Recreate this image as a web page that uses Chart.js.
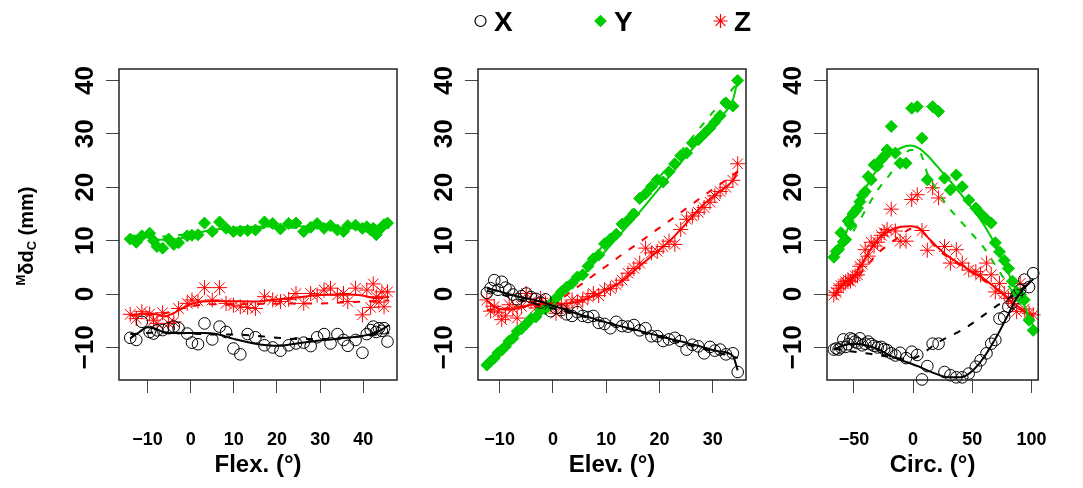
<!DOCTYPE html>
<html>
<head>
<meta charset="utf-8">
<script src="https://cdn.jsdelivr.net/npm/chart.js@4.4.1/dist/chart.umd.min.js"></script>
<style>
  html, body { margin: 0; padding: 0; background: #ffffff; }
  #contenedor { position: relative; width: 1083px; height: 488px; }
  canvas { position: absolute; top: 0; }
</style>
</head>
<body>
<div id="contenedor">
  <canvas id="chartFlex" width="420" height="488" style="left:0px"></canvas>
  <canvas id="chartElev" width="360" height="488" style="left:420px"></canvas>
  <canvas id="chartCirc" width="303" height="488" style="left:780px"></canvas>
</div>
<script>
// ---- Flexión: ángulo y desplazamientos X, Y, Z ----
const flexAngle = [-14.0, -12.6, -11.3, -9.5, -8.6, -7.8, -6.5, -5.1, -3.9, -2.8, -0.8, 0.3, 1.7, 3.2, 5.0, 6.7, 8.2, 9.9, 11.5, 13.2, 15.0, 17.1, 19.0, 20.8, 22.7, 24.4, 26.2, 27.8, 29.3, 30.9, 32.4, 34.0, 35.4, 36.4, 38.2, 39.8, 40.8, 41.7, 42.3, 43.0, 43.6, 44.3, 44.8, 45.6];
const flexX = [-8.2, -8.6, -5.2, -7.1, -7.4, -6.8, -6.75, -6.4, -6.1, -6.4, -7.4, -9.1, -9.4, -5.5, -8.5, -6.1, -7.1, -10.2, -11.3, -7.5, -8.1, -9.6, -10.0, -10.6, -9.6, -9.25, -9.1, -9.75, -8.1, -7.5, -9.25, -7.5, -8.6, -9.7, -8.6, -11.0, -7.5, -6.75, -6.1, -7.1, -6.4, -6.9, -6.4, -8.9];
const flexY = [10.3, 9.7, 10.9, 11.4, 10.0, 8.9, 8.6, 10.3, 9.3, 9.6, 10.9, 11.0, 11.1, 13.3, 11.7, 13.5, 12.3, 11.7, 11.8, 11.9, 12.0, 13.5, 13.2, 12.2, 13.2, 13.3, 11.7, 12.5, 13.2, 12.3, 12.8, 12.0, 11.7, 12.8, 12.9, 12.3, 12.6, 12.0, 12.3, 11.1, 12.0, 12.5, 13.0, 13.3];
const flexZ = [-3.8, -4.6, -3.3, -3.75, -4.9, -5.5, -3.5, -5.5, -5.2, -2.7, -1.75, -1.1, -1.3, 1.2, -1.1, 1.2, -1.75, -2.1, -2.4, -2.5, -2.7, -0.5, -1.1, -1.4, -1.0, 0.1, -1.75, 0.1, -0.2, 0.75, 1.1, -0.2, 0.1, -1.4, 1.1, -3.9, 0.75, -2.5, 1.9, -0.5, -1.5, 0.4, -2.4, 0.4];
// curvas de ajuste (continua) y tendencia (discontinua)
const flexGrid = [-14, -12, -10, -8, -6, -4, -2, 0, 3, 6, 10, 15, 20, 25, 30, 35, 40, 43, 46];
const flexFitX = [-8.3, -7.2, -6.2, -6.6, -7.2, -7.3, -7.3, -7.3, -7.3, -7.5, -8.4, -9.3, -9.7, -9.2, -8.7, -8.3, -7.8, -7.2, -5.8];
const flexDashX = [-7.5, -7.4, -7.3, -7.2, -7.2, -7.2, -7.3, -7.4, -7.5, -7.6, -7.6, -7.8, -8.2, -8.4, -8.4, -8.2, -7.9, -7.6, -7.3];
const flexFitY = [10.6, 10.7, 10.6, 10.3, 10.1, 10.2, 10.5, 11.0, 11.7, 12.1, 12.4, 12.6, 12.7, 12.7, 12.5, 12.4, 12.3, 12.6, 13.2];
const flexDashY = [10.9, 10.9, 10.8, 10.8, 10.8, 10.9, 11.1, 11.4, 11.8, 12.1, 12.2, 12.3, 12.4, 12.4, 12.3, 12.3, 12.2, 12.3, 12.4];
const flexFitZ = [-3.9, -3.8, -3.6, -3.8, -4.2, -3.6, -2.7, -1.9, -1.4, -1.3, -1.35, -1.4, -1.0, -0.6, -0.2, -0.1, -0.3, -0.8, -0.5];
const flexDashZ = [-4.0, -4.0, -3.9, -3.8, -3.6, -3.2, -2.7, -2.3, -2.0, -1.9, -1.9, -1.85, -1.8, -1.75, -1.75, -1.6, -1.4, -1.3, -1.2];

// ---- Elevación ----
const elevAngle = [-12.4, -11.7, -11.0, -10.3, -9.6, -8.9, -8.2, -7.5, -6.7, -5.9, -5.0, -4.1, -3.2, -2.3, -1.4, -0.4, 0.6, 1.6, 2.6, 3.6, 4.6, 5.6, 6.6, 7.6, 8.6, 9.7, 10.8, 11.9, 13.0, 14.1, 15.2, 16.3, 17.4, 18.5, 19.6, 20.7, 21.8, 22.9, 24.0, 25.1, 26.2, 27.3, 28.4, 29.5, 30.4, 31.4, 32.5, 33.8, 34.7];
const elevX = [0.2, 1.1, 2.6, 0.8, 2.3, 1.2, 0.8, -0.1, -1.0, -0.4, 0.1, -0.6, -0.9, -1.6, -1.0, -3.2, -2.6, -3.0, -3.8, -4.1, -3.4, -4.1, -4.3, -4.1, -5.4, -5.6, -6.4, -5.2, -6.0, -6.1, -5.8, -6.8, -6.4, -7.9, -7.9, -8.8, -8.5, -8.2, -8.8, -10.4, -9.5, -9.8, -11.1, -9.9, -10.6, -10.4, -11.3, -11.1, -14.6];
const elevY = [-13.3, -12.6, -12.0, -11.0, -10.5, -9.8, -8.8, -8.3, -7.0, -6.5, -5.6, -4.6, -4.3, -3.0, -2.8, -1.9, -0.8, 0.4, 1.3, 2.0, 3.2, 3.6, 5.2, 6.6, 7.3, 9.4, 10.3, 11.2, 13.1, 13.8, 15.0, 17.9, 18.8, 20.1, 21.4, 21.0, 22.9, 24.4, 25.9, 26.4, 28.3, 28.9, 30.0, 31.1, 32.2, 33.4, 35.8, 35.2, 40.0];
const elevZ = [-1.1, -3.2, -2.3, -3.4, -4.8, -4.1, -2.0, -2.8, -4.5, -2.3, 0.1, -1.4, -2.6, -0.8, -1.7, -2.0, -3.6, -2.2, -2.6, -1.1, -1.5, -1.1, -0.5, 0.1, -0.3, 0.8, 1.0, 1.7, 2.6, 3.9, 4.8, 5.8, 8.6, 7.7, 8.0, 8.9, 9.9, 9.3, 12.1, 14.0, 14.6, 15.3, 16.2, 17.2, 18.4, 19.2, 20.0, 21.3, 24.4];
const elevGrid = [-12.4, -10, -8, -6, -4, -2, 0, 2, 4, 6, 8, 10, 13, 16, 19, 22, 25, 28, 31, 33.8, 34.7];
const elevFitX = [1.1, 0.5, -0.1, -0.6, -1.0, -1.5, -2.2, -2.8, -3.5, -4.1, -4.7, -5.3, -6.1, -6.8, -7.6, -8.4, -9.1, -9.9, -10.7, -11.6, -14.3];
const elevDashX = [0.6, 0.0, -0.6, -1.1, -1.6, -2.2, -2.7, -3.2, -3.8, -4.3, -4.8, -5.4, -6.2, -7.0, -7.8, -8.6, -9.4, -10.2, -11.0, -11.7, -12.0];
const elevFitY = [-13.2, -10.9, -9.0, -7.1, -5.3, -3.6, -2.0, -0.1, 1.9, 4.0, 6.1, 8.2, 11.6, 15.0, 18.6, 22.2, 25.8, 29.3, 32.7, 36.4, 40.0];
const elevDashY = [-13.5, -11.2, -9.3, -7.4, -5.5, -3.8, -2.0, 0.3, 2.6, 5.0, 7.4, 9.8, 13.5, 17.1, 20.7, 24.3, 27.9, 31.6, 35.2, 38.5, 39.6];
const elevFitZ = [-1.3, -2.8, -2.9, -2.4, -2.0, -1.8, -1.75, -1.8, -1.6, -1.0, -0.2, 0.8, 2.4, 5.0, 7.5, 10.0, 13.2, 16.5, 19.0, 21.3, 23.0];
const elevDashZ = [-3.0, -2.8, -2.6, -2.5, -2.3, -2.2, -2.0, -0.6, 0.9, 2.3, 3.8, 5.2, 7.4, 9.5, 11.7, 13.8, 16.0, 18.2, 20.3, 22.3, 23.0];

// ---- Circunducción ----
const circAngle = [-67, -65, -63, -61, -59, -57, -55, -53, -51, -49, -47, -45, -43, -40.5, -38, -35.5, -33, -30, -27, -24.5, -22, -18.5, -15, -11, -6, -1.2, 3.5, 7.5, 12, 16.5, 21.5, 26.5, 31.5, 36.5, 41.5, 47, 53, 57, 62, 66, 69.5, 73, 77, 80.5, 84, 87.5, 90.5, 94, 98, 101.5];
const circX = [-10.4, -10.2, -10.4, -10.0, -8.5, -9.9, -9.4, -8.3, -8.5, -8.9, -9.2, -8.3, -9.6, -9.3, -8.9, -9.4, -9.7, -10.0, -9.9, -10.3, -10.5, -11.1, -11.5, -11.0, -12.0, -10.8, -11.4, -16.0, -13.5, -9.3, -9.3, -14.6, -15.2, -15.6, -15.6, -14.9, -13.6, -12.4, -11.1, -9.3, -8.6, -4.6, -4.3, -2.4, -1.6, -0.2, 0.8, 2.7, 1.3, 3.9];
const circY = [6.9, 8.0, 8.4, 11.5, 9.8, 10.2, 13.7, 13.0, 15.0, 15.5, 16.1, 17.3, 18.5, 19.2, 22.0, 21.4, 24.2, 24.0, 25.2, 25.8, 27.0, 31.4, 26.4, 24.5, 24.5, 34.8, 35.1, 29.2, 21.4, 35.1, 34.2, 21.7, 19.5, 22.3, 20.1, 17.6, 16.1, 15.1, 14.0, 13.3, 9.6, 7.9, 6.3, 4.8, 2.4, 0.4, -0.1, -1.1, -4.9, -6.8];
const circZ = [-0.2, 0.3, 1.1, 1.6, 1.9, 2.3, 2.6, 2.4, 3.0, 3.4, 3.6, 5.2, 5.6, 8.3, 7.1, 9.7, 9.0, 9.7, 11.0, 11.5, 12.1, 15.9, 11.8, 9.9, 9.9, 17.7, 18.6, 11.9, 8.2, 19.9, 18.0, 8.9, 5.8, 8.3, 5.8, 4.5, 4.2, 3.6, 5.8, 3.6, 0.4, 2.0, 0.1, -0.8, -1.75, -3.3, 2.0, -2.8, -3.6, -3.9];
const circGrid = [-67, -60, -50, -40, -30, -20, -10, -2, 5, 12, 20, 30, 40, 50, 60, 70, 80, 87, 94, 101.5];
const circFitX = [-10.4, -9.7, -9.3, -9.6, -10.3, -11.5, -12.4, -13.0, -13.6, -14.3, -15.0, -15.6, -15.6, -14.4, -11.8, -8.2, -4.0, -0.9, 1.1, 2.8];
const circDashX = [-10.2, -10.5, -10.8, -11.1, -11.4, -11.8, -12.1, -12.2, -11.6, -10.5, -9.2, -8.0, -6.9, -5.5, -3.9, -2.3, -0.9, 0.2, 1.3, 2.8];
const circFitY = [6.8, 9.8, 15.0, 19.9, 23.5, 26.0, 27.4, 27.8, 27.3, 26.0, 24.0, 21.5, 18.8, 16.0, 12.9, 9.0, 4.2, 0.7, -2.2, -6.0];
const circDashY = [7.0, 8.7, 12.0, 15.8, 19.5, 22.3, 25.5, 27.0, 26.8, 22.6, 19.5, 16.2, 13.7, 11.2, 8.6, 5.2, 1.8, -0.6, -3.0, -6.0];
const circFitZ = [-0.3, 1.6, 3.4, 6.9, 10.2, 11.9, 12.6, 12.7, 12.3, 10.7, 8.9, 7.0, 5.6, 4.1, 2.8, 1.1, -0.8, -2.0, -3.2, -4.1];
const circDashZ = [-0.3, 0.9, 2.5, 5.0, 7.6, 9.4, 11.0, 12.2, 12.2, 10.6, 8.6, 6.8, 5.4, 4.0, 2.5, 1.0, -0.9, -2.3, -3.3, -4.2];

// Marcas de los ejes
const yTicks = [-10, 0, 10, 20, 30, 40];
const flexTicks = [-10, 0, 10, 20, 30, 40];
const elevTicks = [-10, 0, 10, 20, 30];
const circTicks = [-50, 0, 50, 100];

const FUENTE = "'Liberation Sans Narrow', 'Arial Narrow', 'Liberation Sans', Arial, sans-serif";
const NEGRO = '#000000';
const VERDE = '#00cd00';
const ROJO = '#ff0000';
const Y_MIN = -16.1;
const Y_MAX = 42.15;

const aPuntos = (xs, ys) => xs.map((x, i) => ({x: x, y: ys[i]}));
const etiqueta = v => v < 0 ? '\u2212' + Math.abs(v) : String(v);

// Dataset de puntos
const puntos = (label, xs, ys, color, estilo, radio) => ({
    label: label,
    data: aPuntos(xs, ys),
    showLine: false,
    pointStyle: estilo,
    pointRadius: radio,
    pointBorderColor: color,
    pointBackgroundColor: estilo === 'circle' ? 'rgba(0,0,0,0)' : color,
    pointBorderWidth: 1,
    clip: false,
    order: 2
});

// Dataset de curva (continua o discontinua)
const curva = (xs, ys, color, discontinua) => ({
    data: aPuntos(xs, ys),
    showLine: true,
    pointRadius: 0,
    borderColor: color,
    borderWidth: 2,
    borderDash: discontinua ? [7, 9] : [],
    cubicInterpolationMode: 'monotone',
    fill: false,
    order: 1
});

// Marco alrededor del área de datos
const marcoPlugin = {
    id: 'marco',
    afterDraw(chart) {
        const {ctx, chartArea: a} = chart;
        ctx.save();
        ctx.strokeStyle = '#222222';
        ctx.lineWidth = 1.5;
        ctx.strokeRect(a.left, a.top, a.right - a.left, a.bottom - a.top);
        ctx.restore();
    }
};

// Leyenda superior (solo en el panel central)
const leyendaPlugin = {
    id: 'leyendaXYZ',
    afterDraw(chart) {
        const {ctx, chartArea: a} = chart;
        const centro = (a.left + a.right) / 2;
        const items = chart.data.datasets.filter(d => d.label);
        ctx.save();
        items.forEach((d, i) => {
            const xm = centro - 131.5 + i * 120;
            ctx.strokeStyle = d.pointBorderColor;
            ctx.fillStyle = d.pointBackgroundColor;
            ctx.lineWidth = 1.2;
            Chart.helpers.drawPoint(ctx, {
                pointStyle: d.pointStyle,
                radius: d.pointStyle === 'star' ? 7 : 5.5,
                borderWidth: 1.2,
                rotation: 0
            }, xm, 21);
            ctx.fillStyle = NEGRO;
            ctx.font = `bold 28px ${FUENTE}`;
            ctx.textAlign = 'left';
            ctx.textBaseline = 'alphabetic';
            ctx.fillText(d.label, xm + 13.5, 31);
        });
        ctx.restore();
    }
};

// Título del eje Y con superíndice y subíndice
const tituloYPlugin = {
    id: 'tituloY',
    afterDraw(chart) {
        const ctx = chart.ctx;
        const partes = [
            {t: 'M', size: 13, base: -1},
            {t: '\u03b4d', size: 20, base: 7},
            {t: 'C', size: 13, base: 10},
            {t: ' (mm)', size: 20, base: 7}
        ];
        ctx.save();
        ctx.translate(26, 236);
        ctx.rotate(-Math.PI / 2);
        ctx.fillStyle = NEGRO;
        ctx.textAlign = 'left';
        ctx.textBaseline = 'alphabetic';
        let total = 0;
        partes.forEach(p => {
            ctx.font = `bold ${p.size}px ${FUENTE}`;
            p.w = ctx.measureText(p.t).width;
            total += p.w;
        });
        let x = -total / 2;
        partes.forEach(p => {
            ctx.font = `bold ${p.size}px ${FUENTE}`;
            ctx.fillText(p.t, x, p.base);
            x += p.w;
        });
        ctx.restore();
    }
};

const crearPanel = (id, cfg) => {
    const ctx = document.getElementById(id).getContext('2d');
    return new Chart(ctx, {
        type: 'scatter',
        data: {
            datasets: [
                curva(cfg.grid, cfg.fitX, NEGRO, false),
                curva(cfg.grid, cfg.dashX, NEGRO, true),
                curva(cfg.grid, cfg.fitY, VERDE, false),
                curva(cfg.grid, cfg.dashY, VERDE, true),
                curva(cfg.grid, cfg.fitZ, ROJO, false),
                curva(cfg.grid, cfg.dashZ, ROJO, true),
                puntos('X', cfg.angle, cfg.x, NEGRO, 'circle', 5.8),
                puntos('Y', cfg.angle, cfg.y, VERDE, 'rectRot', 6),
                puntos('Z', cfg.angle, cfg.z, ROJO, 'star', 7.5)
            ]
        },
        options: {
            responsive: false,
            animation: false,
            events: [],
            layout: {padding: {top: 69, right: cfg.padRight, bottom: 0, left: 0}},
            plugins: {
                legend: {display: false},
                tooltip: {enabled: false}
            },
            scales: {
                x: {
                    type: 'linear',
                    min: cfg.xMin,
                    max: cfg.xMax,
                    afterBuildTicks: s => { s.ticks = cfg.ticks.map(v => ({value: v})); },
                    afterFit: s => { s.height = 108; },
                    grid: {drawOnChartArea: false, drawTicks: true, tickLength: 13, color: '#444444', lineWidth: 1},
                    border: {display: false},
                    ticks: {
                        font: {family: FUENTE, size: 18, weight: 'bold'},
                        color: NEGRO,
                        padding: 36,
                        maxRotation: 0,
                        minRotation: 0,
                        autoSkip: false,
                        callback: etiqueta
                    },
                    title: {
                        display: true,
                        text: cfg.titulo,
                        color: NEGRO,
                        font: {family: FUENTE, size: 24, weight: 'bold'},
                        padding: {top: 0, bottom: 8}
                    }
                },
                y: {
                    type: 'linear',
                    min: Y_MIN,
                    max: Y_MAX,
                    afterBuildTicks: s => { s.ticks = yTicks.map(v => ({value: v})); },
                    afterFit: s => { s.width = cfg.yWidth; },
                    grid: {drawOnChartArea: false, drawTicks: true, tickLength: 13, color: '#444444', lineWidth: 1},
                    border: {display: false},
                    ticks: {
                        font: {family: FUENTE, size: 26, weight: 'bold'},
                        color: NEGRO,
                        minRotation: 90,
                        maxRotation: 90,
                        crossAlign: 'center',
                        padding: -2,
                        autoSkip: false,
                        callback: etiqueta
                    }
                }
            }
        },
        plugins: [marcoPlugin].concat(cfg.extra || [])
    });
};

document.addEventListener('DOMContentLoaded', () => {
    crearPanel('chartFlex', {
        angle: flexAngle, x: flexX, y: flexY, z: flexZ,
        grid: flexGrid, fitX: flexFitX, dashX: flexDashX, fitY: flexFitY, dashY: flexDashY, fitZ: flexFitZ, dashZ: flexDashZ,
        xMin: -16.6, xMax: 47.8, ticks: flexTicks, titulo: 'Flex. (\u00b0)',
        yWidth: 119, padRight: 23, extra: [tituloYPlugin]
    });
    crearPanel('chartElev', {
        angle: elevAngle, x: elevX, y: elevY, z: elevZ,
        grid: elevGrid, fitX: elevFitX, dashX: elevDashX, fitY: elevFitY, dashY: elevDashY, fitZ: elevFitZ, dashZ: elevDashZ,
        xMin: -14.06, xMax: 36.26, ticks: elevTicks, titulo: 'Elev. (\u00b0)',
        yWidth: 58, padRight: 34, extra: [leyendaPlugin]
    });
    crearPanel('chartCirc', {
        angle: circAngle, x: circX, y: circY, z: circZ,
        grid: circGrid, fitX: circFitX, dashX: circDashX, fitY: circFitY, dashY: circDashY, fitZ: circFitZ, dashZ: circDashZ,
        xMin: -72.8, xMax: 105.7, ticks: circTicks, titulo: 'Circ. (\u00b0)',
        yWidth: 47, padRight: 17
    });
});
</script>
</body>
</html>
